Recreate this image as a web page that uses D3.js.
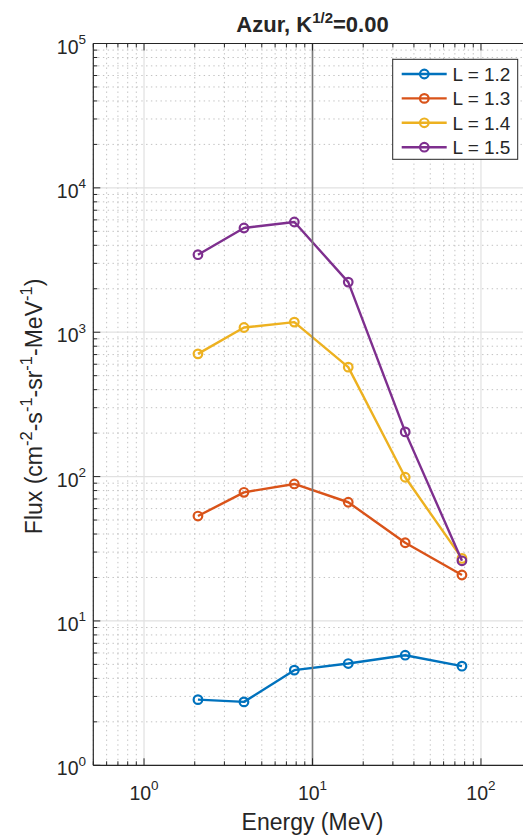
<!DOCTYPE html>
<html>
<head>
<meta charset="utf-8">
<script src="https://cdn.jsdelivr.net/npm/d3@7"></script>
<style>
  html, body { margin: 0; padding: 0; background: #fff; }
  svg { display: block; }
  text { font-family: "Liberation Sans", Arial, Helvetica, sans-serif; fill: #262626; }
</style>
</head>
<body>
<svg id="chart" width="523" height="838"></svg>
<script>
// Proton flux spectra at several L-shells
const energies = [2.09, 3.92, 7.8, 16.3, 35.5, 77.1];           // MeV
const fluxL12 = [2.85, 2.75, 4.56, 5.07, 5.79, 4.86];
const fluxL13 = [53.3, 77.8, 88.9, 66.4, 34.8, 20.8];
const fluxL14 = [708, 1078, 1175, 573, 98.9, 27.1];
const fluxL15 = [3443, 5272, 5802, 2225, 204, 26.1];
const seriesNames = ["L = 1.2", "L = 1.3", "L = 1.4", "L = 1.5"];
const seriesColors = ["#0072BD", "#D95319", "#EDB120", "#7E2F8E"];
const xTickExps = [0, 1, 2];
const yTickExps = [0, 1, 2, 3, 4, 5];
const xDomain = [0.5, 200];
const yDomain = [1, 1e5];
const refEnergy = 10;

const series = [fluxL12, fluxL13, fluxL14, fluxL15].map((vals, i) => ({
  name: seriesNames[i], color: seriesColors[i],
  points: vals.map((v, j) => ({ e: energies[j], f: v }))
}));

const svg = d3.select("#chart");
const plotL = 93.3, plotR = 531.7, plotT = 43.5, plotB = 765.3;

const x = d3.scaleLog().domain(xDomain).range([plotL, plotR]);
const y = d3.scaleLog().domain(yDomain).range([plotB, plotT]);

const isDecade = v => Math.abs(Math.log10(v) - Math.round(Math.log10(v))) < 1e-9;
const xAll = x.ticks();
const yAll = y.ticks();
const xMinor = xAll.filter(v => !isDecade(v));
const yMinor = yAll.filter(v => !isDecade(v));
const xMajor = xAll.filter(isDecade);
const yMajor = yAll.filter(isDecade);

const g = svg.append("g");

// minor grid (dotted)
g.append("g").selectAll("line").data(xMinor).join("line")
  .attr("x1", d => x(d)).attr("x2", d => x(d))
  .attr("y1", plotT).attr("y2", plotB)
  .attr("stroke", "#c2c2c2").attr("stroke-width", 1)
  .attr("stroke-dasharray", "1.4,3.4");
g.append("g").selectAll("line").data(yMinor).join("line")
  .attr("x1", plotL).attr("x2", plotR)
  .attr("y1", d => y(d)).attr("y2", d => y(d))
  .attr("stroke", "#c2c2c2").attr("stroke-width", 1)
  .attr("stroke-dasharray", "1.4,3.4");

// major grid (solid)
g.append("g").selectAll("line").data(xMajor).join("line")
  .attr("x1", d => x(d)).attr("x2", d => x(d))
  .attr("y1", plotT).attr("y2", plotB)
  .attr("stroke", "#e1e1e1").attr("stroke-width", 1.2);
g.append("g").selectAll("line").data(yMajor).join("line")
  .attr("x1", plotL).attr("x2", plotR)
  .attr("y1", d => y(d)).attr("y2", d => y(d))
  .attr("stroke", "#e1e1e1").attr("stroke-width", 1.2);

// data lines and markers
const line = d3.line().x(d => x(d.e)).y(d => y(d.f));
series.forEach(s => {
  const sg = g.append("g");
  sg.append("path").datum(s.points)
    .attr("d", line).attr("fill", "none")
    .attr("stroke", s.color).attr("stroke-width", 2.4)
    .attr("stroke-linejoin", "round");
  sg.selectAll("circle").data(s.points).join("circle")
    .attr("cx", d => x(d.e)).attr("cy", d => y(d.f)).attr("r", 4.3)
    .attr("fill", "none").attr("stroke", s.color).attr("stroke-width", 2.2);
});

// reference line at 10 MeV
g.append("line")
  .attr("x1", x(refEnergy)).attr("x2", x(refEnergy))
  .attr("y1", plotT).attr("y2", plotB)
  .attr("stroke", "#7b7b7b").attr("stroke-width", 1.6);

// axes box and inward ticks
const axisColor = "#262626";
const ax = svg.append("g").attr("stroke", axisColor);
ax.append("line").attr("x1", plotL).attr("x2", plotR).attr("y1", plotB).attr("y2", plotB).attr("stroke-width", 1.2);
ax.append("line").attr("x1", plotL).attr("x2", plotR).attr("y1", plotT).attr("y2", plotT).attr("stroke-width", 1.2);
ax.append("line").attr("x1", plotL).attr("x2", plotL).attr("y1", plotT).attr("y2", plotB).attr("stroke-width", 1.2);

const majLen = 7, minLen = 4;
xAll.forEach(v => {
  const len = isDecade(v) ? majLen : minLen;
  ax.append("line").attr("x1", x(v)).attr("x2", x(v)).attr("y1", plotB).attr("y2", plotB - len).attr("stroke-width", 1);
  ax.append("line").attr("x1", x(v)).attr("x2", x(v)).attr("y1", plotT).attr("y2", plotT + len).attr("stroke-width", 1);
});
yAll.forEach(v => {
  const len = isDecade(v) ? majLen : minLen;
  ax.append("line").attr("x1", plotL).attr("x2", plotL + len).attr("y1", y(v)).attr("y2", y(v)).attr("stroke-width", 1);
});

// tick labels with exponents
const xl = svg.append("g");
xTickExps.forEach(p => {
  const t = xl.append("text").attr("x", x(Math.pow(10, p))).attr("y", plotB + 34.5)
    .attr("text-anchor", "middle").style("font-size", "19.5px");
  t.append("tspan").text("10");
  t.append("tspan").attr("dy", -9.5).style("font-size", "13.5px").text(p);
});
const yl = svg.append("g");
yTickExps.forEach(p => {
  const t = yl.append("text").attr("x", 86).attr("y", y(Math.pow(10, p)) + 10)
    .attr("text-anchor", "end").style("font-size", "19.5px");
  t.append("tspan").text("10");
  t.append("tspan").attr("dy", -9.5).style("font-size", "13.5px").text(p);
});

// axis labels
svg.append("text").attr("x", (plotL + plotR) / 2).attr("y", 830)
  .attr("text-anchor", "middle").style("font-size", "23px").text("Energy (MeV)");

const yLab = svg.append("text")
  .attr("transform", `translate(42,${(plotT + plotB) / 2 + 2}) rotate(-90)`)
  .attr("text-anchor", "middle").style("font-size", "23px");
const supParts = [["Flux (cm", "-2"], ["-s", "-1"], ["-sr", "-1"], ["-MeV", "-1"]];
supParts.forEach(([base, sup], i) => {
  yLab.append("tspan").attr("dy", i === 0 ? 0 : 10).text(base);
  yLab.append("tspan").attr("dy", -10).style("font-size", "16.5px").text(sup);
});
yLab.append("tspan").attr("dy", 10).text(")");

// title
const title = svg.append("text").attr("x", (plotL + plotR) / 2).attr("y", 32)
  .attr("text-anchor", "middle").style("font-size", "22px").style("font-weight", "bold");
title.append("tspan").text("Azur, K");
title.append("tspan").attr("dy", -9).style("font-size", "15px").text("1/2");
title.append("tspan").attr("dy", 9).text("=0.00");

// legend
const lg = svg.append("g");
const lgLeft = 392.7, lgTop = 59.3, lgW = 125, lgH = 100;
lg.append("rect").attr("x", lgLeft).attr("y", lgTop).attr("width", lgW).attr("height", lgH)
  .attr("fill", "#fff").attr("stroke", axisColor).attr("stroke-width", 1);
series.forEach((s, i) => {
  const cy = 74 + i * 24.4;
  lg.append("line").attr("x1", 401.7).attr("x2", 446.7).attr("y1", cy).attr("y2", cy)
    .attr("stroke", s.color).attr("stroke-width", 2.4);
  lg.append("circle").attr("cx", 424.3).attr("cy", cy).attr("r", 4.3)
    .attr("fill", "none").attr("stroke", s.color).attr("stroke-width", 2.2);
  lg.append("text").attr("x", 452.5).attr("y", cy + 7).style("font-size", "19px").text(s.name);
});
</script>
</body>
</html>
